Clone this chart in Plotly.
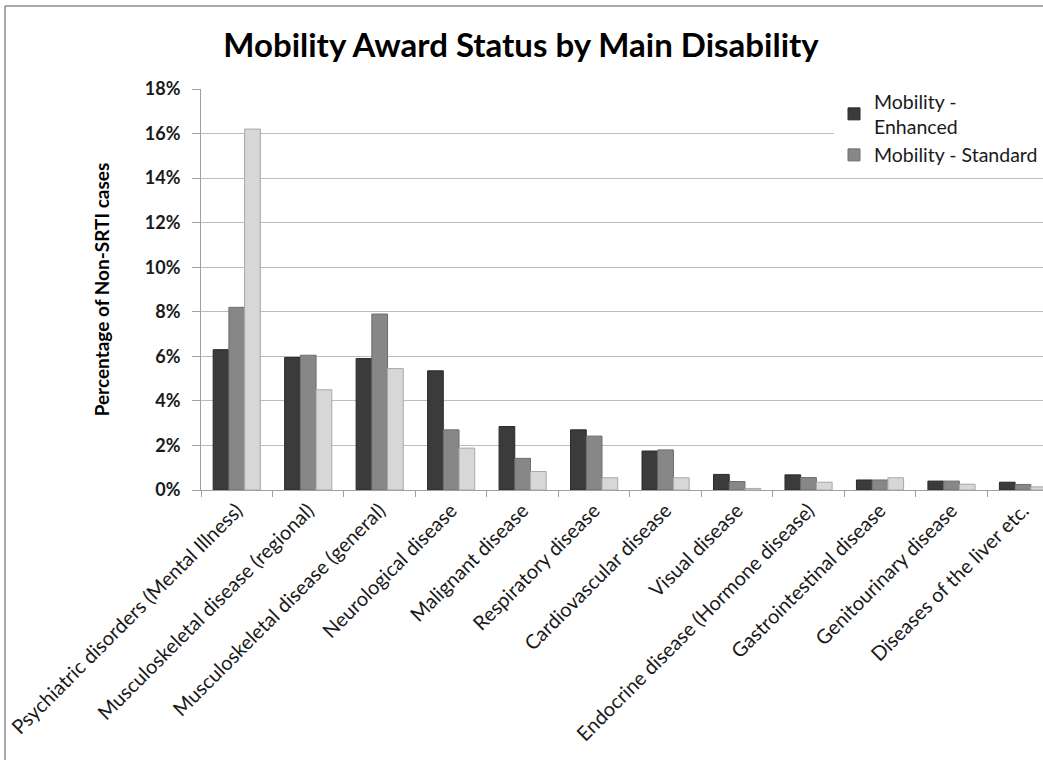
import plotly.graph_objects as go

categories = [
    "Psychiatric disorders (Mental Illness)",
    "Musculoskeletal disease (regional)",
    "Musculoskeletal disease (general)",
    "Neurological disease",
    "Malignant disease",
    "Respiratory disease",
    "Cardiovascular disease",
    "Visual disease",
    "Endocrine disease (Hormone disease)",
    "Gastrointestinal disease",
    "Genitourinary disease",
    "Diseases of the liver etc.",
]
enhanced = [6.3, 5.95, 5.9, 5.35, 2.85, 2.7, 1.75, 0.7, 0.68, 0.45, 0.4, 0.35]
standard = [8.2, 6.05, 7.9, 2.7, 1.42, 2.42, 1.8, 0.38, 0.56, 0.45, 0.4, 0.25]
third = [16.2, 4.5, 5.45, 1.88, 0.83, 0.55, 0.55, 0.07, 0.35, 0.55, 0.26, 0.14]

W, H = 1043, 760
L, T, B = 201, 89, 270
pw = W - L
ph = H - T - B


def px_x(px):
    return (px - L) / pw


def px_y(py):
    return (H - B - py) / ph


fig = go.Figure()
fig.add_bar(x=categories, y=enhanced, name="Mobility -<br>Enhanced",
            marker=dict(color="#3b3b3b", line=dict(color="#2a2a2a", width=1)))
fig.add_bar(x=categories, y=standard, name="Mobility - Standard",
            marker=dict(color="#878787", line=dict(color="#6e6e6e", width=1)))
fig.add_bar(x=categories, y=third, name="Mobility - None", showlegend=False,
            marker=dict(color="#d7d7d7", line=dict(color="#a8a8a8", width=1)))

fig.update_layout(
    width=W, height=H,
    margin=dict(l=L, r=0, t=T, b=B, autoexpand=False),
    paper_bgcolor="white", plot_bgcolor="white",
    barmode="group", bargap=0.34, bargroupgap=0,
    font=dict(family="Lato, Open Sans, sans-serif", color="#1a1a1a"),
    title=dict(text="<b>Mobility Award Status by Main Disability</b>",
               x=521 / W, xref="container", xanchor="center",
               y=1 - 45 / H, yanchor="middle", yref="container",
               font=dict(size=33, color="#000000")),
    legend=dict(x=px_x(834), xanchor="left", y=px_y(82), yanchor="top",
                bgcolor="white", font=dict(size=19.5, color="#1a1a1a"),
                itemwidth=30, tracegroupgap=0),
    showlegend=True,
)
fig.update_xaxes(
    range=[-0.5, 11.28], tickangle=-45, tickfont=dict(size=20, color="#1a1a1a"),
    showline=True, linecolor="#a0a0a0", linewidth=1,
    ticks="outside", ticklen=6, tickcolor="#a0a0a0", tickson="boundaries",
    showgrid=False, automargin=False,
)
fig.update_yaxes(
    range=[0, 18], dtick=2, ticksuffix="%",
    tickfont=dict(size=18, color="#1a1a1a", weight="bold"),
    showline=True, linecolor="#a0a0a0", linewidth=1,
    ticks="outside", ticklen=8, tickcolor="#a0a0a0", ticklabelstandoff=8,
    showgrid=True, gridcolor="#bdbdbd", gridwidth=1,
    title=dict(text="<b>Percentage of Non-SRTI cases</b>",
               font=dict(size=19, color="#000000"), standoff=30),
    zeroline=False, automargin=False,
)
# chart-area border (top and left edges visible, as in the reference)
border = dict(color="#8c8c8c", width=1.5)
fig.add_shape(type="line", xref="paper", yref="paper",
              x0=px_x(5), x1=px_x(W + 5), y0=px_y(6), y1=px_y(6), line=border, layer="above")
fig.add_shape(type="line", xref="paper", yref="paper",
              x0=px_x(5), x1=px_x(5), y0=px_y(6), y1=px_y(H + 5), line=border, layer="above")

fig.write_html("out.html", config={"displayModeBar": False},
               post_script="document.body.style.margin='0px';document.body.style.overflow='hidden';")
